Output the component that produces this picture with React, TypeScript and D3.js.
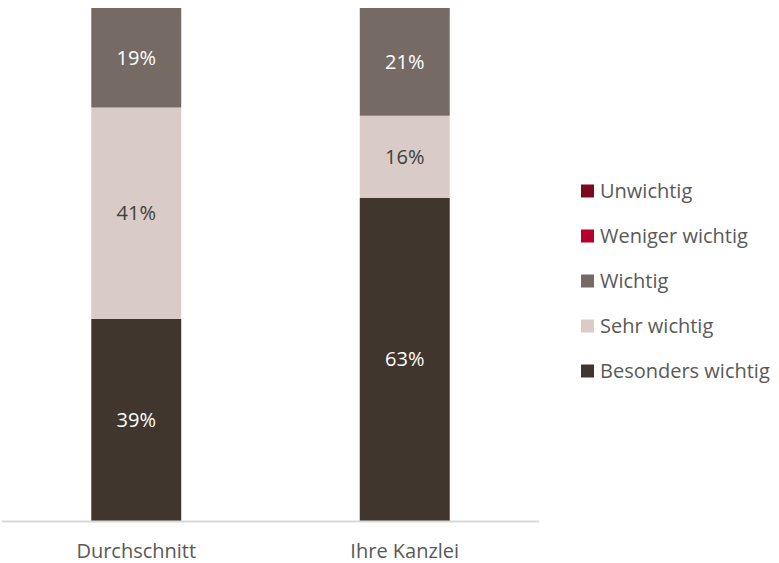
import React from "react";
import * as d3 from "d3";

const categories = ["Durchschnitt", "Ihre Kanzlei"];
const seriesNames = ["Besonders wichtig", "Sehr wichtig", "Wichtig", "Weniger wichtig", "Unwichtig"];
const besonders = [39.4, 63];
const sehr = [41.2, 16];
const wichtig = [19.4, 21];
const weniger = [0, 0];
const unwichtig = [0, 0];
const colors = ["#40362d", "#d9cbc6", "#756a64", "#b5002f", "#7b0a1f"];
const labelColors = ["#ffffff", "#404040", "#ffffff", "#ffffff", "#ffffff"];

const W = 779, H = 563;
const FONT = "'Open Sans', sans-serif";

export default function App() {
  const table = categories.map((c, i) => ({
    cat: c,
    "Besonders wichtig": besonders[i],
    "Sehr wichtig": sehr[i],
    "Wichtig": wichtig[i],
    "Weniger wichtig": weniger[i],
    "Unwichtig": unwichtig[i],
  }));
  const stacked = d3.stack<any>().keys(seriesNames)(table);

  const x = d3.scaleBand().domain(categories).range([2, 539]).paddingInner(0.665).paddingOuter(0.3325);
  const y = d3.scaleLinear().domain([0, 100]).range([521, 8]);

  // legend in reverse order (top = Unwichtig)
  const legendItems = seriesNames.map((n, i) => ({ n, c: colors[i] })).reverse();
  const legendY = d3.scalePoint().domain(legendItems.map(d => d.n)).range([191, 371]);

  return (
    <svg width={W} height={H} style={{ position: "absolute", left: 0, top: 0, background: "#fff" }} fontFamily={FONT}>
      {stacked.map((s, si) => (
        <g key={s.key} fill={colors[si]}>
          {s.map((d, i) => {
            const h = y(d[0]) - y(d[1]);
            if (h <= 0) return null;
            return <rect key={i} x={x(categories[i])} y={y(d[1])} width={x.bandwidth()} height={h} />;
          })}
        </g>
      ))}
      {stacked.map((s, si) => (
        <g key={"l" + s.key} fill={labelColors[si]} fontSize={20} textAnchor="middle">
          {s.map((d, i) => {
            const v = d[1] - d[0];
            if (v <= 0) return null;
            return (
              <text key={i} x={x(categories[i])! + x.bandwidth() / 2} y={(y(d[0]) + y(d[1])) / 2} dy="0.35em">
                {Math.round(v)}%
              </text>
            );
          })}
        </g>
      ))}
      <line x1={2} x2={539} y1={521.5} y2={521.5} stroke="#d9d9d9" strokeWidth={2} />
      {categories.map(c => (
        <text key={c} x={x(c)! + x.bandwidth() / 2} y={551} dy="0.35em" textAnchor="middle" fontSize={20} fill="#595959">
          {c}
        </text>
      ))}
      {legendItems.map(d => (
        <g key={d.n} transform={`translate(581,${legendY(d.n)})`}>
          <rect x={0} y={-6.5} width={13} height={13} fill={d.c} />
          <text x={19} y={0} dy="0.35em" fontSize={20} fill="#595959">{d.n}</text>
        </g>
      ))}
    </svg>
  );
}
